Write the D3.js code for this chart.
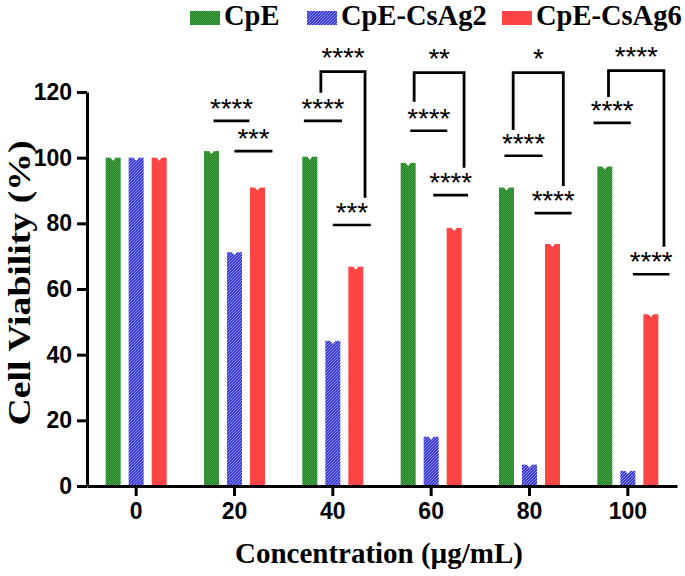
<!DOCTYPE html>
<html>
<head>
<meta charset="utf-8">
<script src="https://cdn.jsdelivr.net/npm/d3@7"></script>
<style>
body { margin: 0; background: #fff; }
</style>
</head>
<body>
<svg id="chart" width="685" height="576"></svg>
<script>
// data
var concentrations = ["0", "20", "40", "60", "80", "100"];
var seriesNames = ["CpE", "CpE-CsAg2", "CpE-CsAg6"];
var cpe = [100, 102.0, 100.3, 98.4, 90.9, 97.3];
var cpeCsAg2 = [100, 71.2, 44.2, 15.0, 6.5, 4.6];
var cpeCsAg6 = [100, 90.9, 66.8, 78.6, 73.7, 52.3];
var yTicks = [0, 20, 40, 60, 80, 100, 120];

// simple significance lines: group, from slot, to slot, level, stars
var pairLines = [
  ["20", 0.09, 1.65, 111.2, "****"],
  ["20", 1.0, 2.65, 102.0, "***"],
  ["40", -0.26, 1.4, 111.2, "****"],
  ["40", 1.0, 2.65, 79.5, "***"],
  ["60", 0.09, 1.7, 108.2, "****"],
  ["60", 1.09, 2.6, 88.6, "****"],
  ["80", -0.09, 1.57, 100.6, "****"],
  ["80", 1.22, 2.83, 83.1, "****"],
  ["100", -0.49, 1.13, 110.6, "****"],
  ["100", 1.22, 2.81, 64.5, "****"]
];
// CpE vs CpE-CsAg6 brackets: group, left slot, right slot, top, left end, right end, stars
var brackets = [
  ["40", 0.48, 2.4, 126.2, 119.8, 87.8, "****"],
  ["60", 0.26, 2.43, 125.9, 117.0, 96.9, "**"],
  ["80", 0.29, 2.47, 125.9, 108.4, 91.4, "*"],
  ["100", 0.16, 2.57, 126.5, 118.5, 72.9, "****"]
];

var svg = d3.select("#chart");
var seriesValues = [cpe, cpeCsAg2, cpeCsAg6];

// patterns for the bar fills
var defs = svg.append("defs");
var pg = defs.append("pattern").attr("id", "pGreen")
  .attr("patternUnits", "userSpaceOnUse").attr("width", 2).attr("height", 2);
pg.append("rect").attr("width", 2).attr("height", 2).attr("fill", "#1e7d1e");
pg.append("rect").attr("width", 1).attr("height", 1).attr("fill", "#4aa64a");
pg.append("rect").attr("x", 1).attr("y", 1).attr("width", 1).attr("height", 1).attr("fill", "#4aa64a");

var pb = defs.append("pattern").attr("id", "pBlue")
  .attr("patternUnits", "userSpaceOnUse").attr("width", 3).attr("height", 3);
pb.append("rect").attr("width", 3).attr("height", 3).attr("fill", "#3535dc");
pb.append("path").attr("d", "M0,3 L3,0").attr("stroke", "#9a9af2").attr("stroke-width", 1);

var fills = ["url(#pGreen)", "url(#pBlue)", "#ff4444"];

var x = d3.scaleBand().domain(concentrations).range([87, 677]);
var slot = d3.scaleLinear().domain([0, 2]).range([-23, 23]);
var y = d3.scaleLinear().domain([0, 120]).range([486, 92]);
var barW = 15;

// bars
seriesNames.forEach(function(name, si) {
  var g = svg.append("g");
  var rows = concentrations.map(function(c, i) { return {c: c, v: seriesValues[si][i]}; });
  g.selectAll("rect").data(rows).enter().append("rect")
    .attr("x", function(d) { return x(d.c) + x.bandwidth() / 2 + slot(si) - barW / 2; })
    .attr("y", function(d) { return y(d.v); })
    .attr("width", barW)
    .attr("height", function(d) { return y(0) - y(d.v); })
    .attr("fill", fills[si]);
  // tiny white error cap notch
  g.selectAll("path").data(rows).enter().append("path")
    .attr("d", function(d) {
      var cx = x(d.c) + x.bandwidth() / 2 + slot(si), t = y(d.v);
      return "M" + (cx - 3) + "," + (t - 0.5) + "L" + (cx + 3) + "," + (t - 0.5) + "L" + cx + "," + (t + 3) + "Z";
    })
    .attr("fill", "#fff");
});

// axes
var yAxis = svg.append("g").attr("transform", "translate(87,0)")
  .call(d3.axisLeft(y).tickValues(yTicks).tickSize(10).tickSizeOuter(0).tickPadding(5));
var xAxis = svg.append("g").attr("transform", "translate(0,486)")
  .call(d3.axisBottom(x).tickSize(10).tickSizeOuter(0).tickPadding(7));
[yAxis, xAxis].forEach(function(a) {
  a.selectAll("path, line").attr("stroke", "#000").attr("stroke-width", 3);
  a.selectAll("text").attr("fill", "#000")
    .style("font-family", "'Liberation Sans', Arial, sans-serif")
    .style("font-weight", "bold").style("font-size", "23px");
});

// axis titles
svg.append("text")
  .attr("x", 379).attr("y", 563)
  .attr("text-anchor", "middle")
  .attr("textLength", 288).attr("lengthAdjust", "spacingAndGlyphs")
  .style("font-family", "'Liberation Serif', 'Times New Roman', serif")
  .style("font-weight", "bold").style("font-size", "28.5px")
  .text("Concentration (\u00b5g/mL)");
svg.append("text")
  .attr("transform", "translate(30,283) rotate(-90)")
  .attr("text-anchor", "middle")
  .attr("textLength", 285).attr("lengthAdjust", "spacingAndGlyphs")
  .style("font-family", "'Liberation Serif', 'Times New Roman', serif")
  .style("font-weight", "bold").style("font-size", "32px")
  .text("Cell Viability (%)");

// significance marks
function gx(c, s) { return x(c) + x.bandwidth() / 2 + slot(s) - slot(1); }
function stars(cx, ly, label) {
  svg.append("text")
    .attr("x", cx).attr("y", ly + 6.5)
    .attr("text-anchor", "middle")
    .style("font-family", "'Liberation Sans', Arial, sans-serif")
    .style("font-size", "28px").style("letter-spacing", "-0.2px")
    .text(label);
}
pairLines.forEach(function(p) {
  var x1 = gx(p[0], p[1]), x2 = gx(p[0], p[2]), ly = y(p[3]);
  svg.append("line").attr("x1", x1).attr("x2", x2).attr("y1", ly).attr("y2", ly)
    .attr("stroke", "#000").attr("stroke-width", 2.6);
  stars((x1 + x2) / 2, ly - 9.5, p[4]);
});
brackets.forEach(function(b) {
  var x1 = gx(b[0], b[1]), x2 = gx(b[0], b[2]);
  svg.append("path")
    .attr("d", "M" + x1 + "," + y(b[4]) + "V" + y(b[3]) + "H" + x2 + "V" + y(b[5]))
    .attr("fill", "none").attr("stroke", "#000").attr("stroke-width", 2.8);
  stars((x1 + x2) / 2, y(b[3]) - 11, b[6]);
});

// legend
var legendX = [190, 307, 502];
seriesNames.forEach(function(name, si) {
  svg.append("rect").attr("x", legendX[si]).attr("y", 11).attr("width", 30).attr("height", 14)
    .attr("fill", fills[si]);
  svg.append("text").attr("x", legendX[si] + 34).attr("y", 25)
    .style("font-family", "'Liberation Serif', 'Times New Roman', serif")
    .style("font-weight", "bold").style("font-size", "28.5px")
    .text(name);
});
</script>
</body>
</html>
